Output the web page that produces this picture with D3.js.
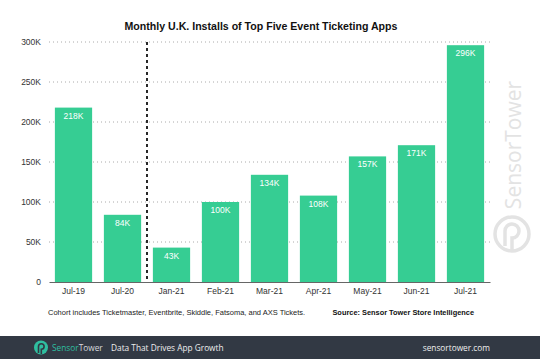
<!DOCTYPE html>
<html><head><meta charset="utf-8">
<script src="https://cdn.jsdelivr.net/npm/d3@7"></script>
<style>body{margin:0;background:#fff}svg{display:block}</style>
</head><body><svg id="c" width="540" height="359"></svg>
<script>
const categories = ["Jul-19","Jul-20","Jan-21","Feb-21","Mar-21","Apr-21","May-21","Jun-21","Jul-21"];
const installs = [218,84,43,100,134,108,157,171,296];
const valueLabels = ["218K","84K","43K","100K","134K","108K","157K","171K","296K"];
const yTicks = [0,50,100,150,200,250,300];
const yTickLabels = ["0","50K","100K","150K","200K","250K","300K"];
const dividerAfter = "Jul-20";

const svg = d3.select("#c");
const font = "'Liberation Sans', Arial, Helvetica, sans-serif";
const green = "#36cd93";

const x = d3.scaleBand().domain(categories).range([49,490]).paddingInner(0.24).paddingOuter(0.12);
const y = d3.scaleLinear().domain([0,300]).range([282,42]);

// watermark
const wm = svg.append("g").attr("fill","#e3e3e3");
wm.append("text").attr("transform","translate(521,145) rotate(-90)")
  .attr("text-anchor","middle").attr("font-family","'Open Sans', sans-serif")
  .attr("font-size",21).attr("font-weight",400).text("SensorTower");
svg.append("circle").attr("cx",512).attr("cy",234).attr("r",17).attr("fill","none").attr("stroke","#e3e3e3").attr("stroke-width",3.5);
svg.append("path").attr("d","M505,246 L505,231 A7,7 0 1 1 512,238 L512,252").attr("fill","none").attr("stroke","#e3e3e3").attr("stroke-width",3.5);

// title
svg.append("text").attr("x",261).attr("y",30).attr("text-anchor","middle")
  .attr("font-family",font).attr("font-weight","bold").attr("font-size",10.6).attr("fill","#111")
  .text("Monthly U.K. Installs of Top Five Event Ticketing Apps");

// grid
const yAxis = d3.axisLeft(y).tickValues(yTicks).tickFormat((d,i)=>yTickLabels[i]).tickSize(0).tickPadding(9);
const gy = svg.append("g").attr("transform","translate(49,0)").call(yAxis);
gy.select(".domain").remove();
gy.selectAll("text").attr("font-family",font).attr("font-size",8.5).attr("fill","#333").attr("x",-8);
svg.append("g").selectAll("line").data(yTicks.filter(d=>d>0)).join("line")
  .attr("x1",49).attr("x2",490).attr("y1",d=>y(d)).attr("y2",d=>y(d))
  .attr("stroke","#aaa").attr("stroke-width",1).attr("stroke-dasharray","1,3");

// bars
svg.append("g").selectAll("rect").data(categories).join("rect")
  .attr("x",d=>x(d)).attr("width",x.bandwidth())
  .attr("y",(d,i)=>y(installs[i])).attr("height",(d,i)=>y(0)-y(installs[i]))
  .attr("fill",green);

svg.append("g").selectAll("text").data(categories).join("text")
  .attr("x",d=>x(d)+x.bandwidth()/2).attr("y",(d,i)=>y(installs[i])+11)
  .attr("text-anchor","middle").attr("font-family",font).attr("font-size",8.5).attr("fill","#fff")
  .text((d,i)=>valueLabels[i]);

// x axis
const xAxis = d3.axisBottom(x).tickSize(0).tickPadding(6);
const gx = svg.append("g").attr("transform","translate(0,282)").call(xAxis);
gx.select(".domain").attr("stroke","#666").attr("stroke-width",1.2);
gx.selectAll("text").attr("font-family",font).attr("font-size",8.5).attr("fill","#333");

// divider
const dx = x(dividerAfter)+x.bandwidth()+x.step()*x.paddingInner()/2;
svg.append("line").attr("x1",dx).attr("x2",dx).attr("y1",42).attr("y2",282)
  .attr("stroke","#111").attr("stroke-width",1.8).attr("stroke-dasharray","3,3");

// footnotes
svg.append("text").attr("x",48).attr("y",315).attr("font-family",font).attr("font-size",7.5).attr("fill","#222")
  .text("Cohort includes Ticketmaster, Eventbrite, Skiddle, Fatsoma, and AXS Tickets.");
svg.append("text").attr("x",474).attr("y",315).attr("text-anchor","end").attr("font-family",font).attr("font-size",7.4).attr("font-weight","bold").attr("fill","#111")
  .text("Source: Sensor Tower Store Intelligence");

// footer
svg.append("rect").attr("x",0).attr("y",336).attr("width",540).attr("height",23).attr("fill","#323944");
svg.append("circle").attr("cx",41).attr("cy",347.5).attr("r",7).attr("fill","#2fbfa0");
svg.append("path").attr("d","M38.5,353 L38.5,346.5 A2.8,2.8 0 1 1 41.3,349.3 L41.3,354").attr("fill","none").attr("stroke","#323944").attr("stroke-width",1.6);
const ft = svg.append("text").attr("x",52).attr("y",351).attr("font-family","'Open Sans', sans-serif").attr("font-size",8.3);
ft.append("tspan").attr("fill","#2fbfa0").text("Sensor");
ft.append("tspan").attr("fill","#d8dadd").text("Tower");
svg.append("text").attr("x",111).attr("y",351).attr("font-family","'Open Sans', sans-serif").attr("font-size",8.3).attr("fill","#eee")
  .text("Data That Drives App Growth");
svg.append("text").attr("x",490).attr("y",351).attr("text-anchor","end").attr("font-family","'Open Sans', sans-serif").attr("font-size",8.3).attr("fill","#eee")
  .text("sensortower.com");
</script></body></html>
